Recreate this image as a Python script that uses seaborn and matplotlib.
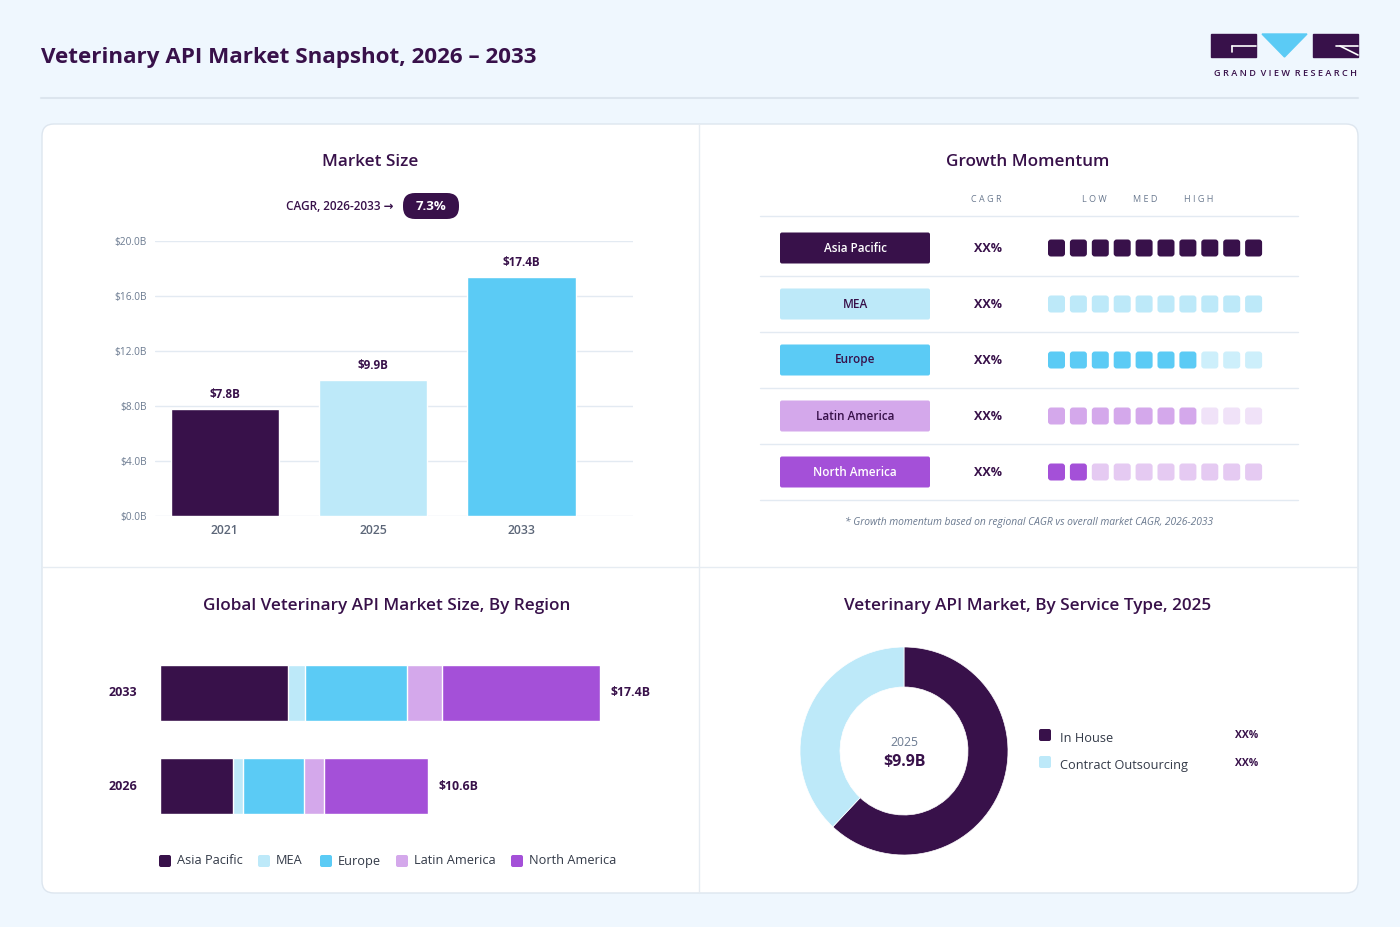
import numpy as np
import pandas as pd
import matplotlib
matplotlib.use("Agg")
import matplotlib.pyplot as plt
from matplotlib.patches import FancyBboxPatch, Rectangle, Polygon
import seaborn as sns

# ---------------- data ----------------
ms_years = ["2021", "2025", "2033"]
ms_values = [7.8, 9.9, 17.4]
ms_labels = ["$7.8B", "$9.9B", "$17.4B"]
y_ticks = [0, 4, 8, 12, 16, 20]
y_tick_labels = ["$0.0B", "$4.0B", "$8.0B", "$12.0B", "$16.0B", "$20.0B"]
cagr_text = "7.3%"

regions = ["Asia Pacific", "MEA", "Europe", "Latin America", "North America"]
momentum_filled = [10, 10, 7, 7, 2]
momentum_total = 10
momentum_cagr = ["XX%", "XX%", "XX%", "XX%", "XX%"]

stack_years = ["2033", "2026"]
stack_2033 = [5.07, 0.66, 4.05, 1.37, 6.25]
stack_2026 = [2.89, 0.38, 2.41, 0.82, 4.10]
stack_totals = ["$17.4B", "$10.6B"]

service_types = ["In House", "Contract Outsourcing"]
service_shares = [62, 38]
service_pct_labels = ["XX%", "XX%"]
donut_year = "2025"
donut_total = "$9.9B"

# ---------------- style ----------------
DARK = "#38114A"
LBLUE = "#BDE9F9"
SKY = "#5BCBF5"
LAV = "#D4A8EB"
PURP = "#A450D8"
reg_colors = [DARK, LBLUE, SKY, LAV, PURP]
pale_colors = [DARK, LBLUE, "#CDEFFB", "#F0E2F8", "#E5CAF2"]
label_text_colors = ["white", DARK, DARK, DARK, "white"]
GREY = "#6B7A90"
GRID = "#E3EAF2"
BG = "#EFF7FE"
FONT = "Open Sans"

sns.set_theme(style="white")
plt.rcParams["font.family"] = [FONT, "DejaVu Sans"]

W, H = 1400, 927
fig = plt.figure(figsize=(W / 100, H / 100), dpi=100)
fig.patch.set_facecolor(BG)

bg = fig.add_axes([0, 0, 1, 1])
bg.set_xlim(0, W)
bg.set_ylim(H, 0)
bg.axis("off")
bg.set_zorder(0)


def ax_px(x0, y0, x1, y1):
    a = fig.add_axes([x0 / W, 1 - y1 / H, (x1 - x0) / W, (y1 - y0) / H])
    a.set_zorder(2)
    a.patch.set_alpha(0)
    return a


# header
bg.text(41, 57, "Veterinary API Market Snapshot, 2026 \u2013 2033", fontsize=16.1,
        fontweight="bold", color=DARK, va="center", ha="left")
bg.plot([41, 1358], [98, 98], color="#DCE5EE", lw=1.5)
# logo
bg.add_patch(Rectangle((1211, 34), 45, 23, color=DARK))
bg.plot([1232, 1256], [46, 46], color="white", lw=1.2)
bg.plot([1232, 1232], [46, 52], color="white", lw=1.2)
bg.add_patch(Polygon([[1262, 34], [1307, 34], [1284.5, 57]], color=SKY))
bg.add_patch(Rectangle((1313, 34), 45, 23, color=DARK))
bg.plot([1336, 1358], [46, 46], color="white", lw=1.2)
bg.plot([1340, 1358], [46, 55], color="white", lw=1.2)
bg.text(1285.5, 73, "G R A N D  V I E W  R E S E A R C H", fontsize=6.6, fontweight="semibold",
        color=DARK, ha="center", va="center")

# card
bg.add_patch(FancyBboxPatch((42, 124), 1316, 769, boxstyle="round,pad=0,rounding_size=12",
                            fc="white", ec="#DDE6EF", lw=1))
bg.plot([699, 699], [124, 893], color="#E6ECF2", lw=1)
bg.plot([42, 1358], [567, 567], color="#E6ECF2", lw=1)

# panel titles
for (x, y, t) in [(370, 162, "Market Size"), (1028, 162, "Growth Momentum"),
                  (387, 606, "Global Veterinary API Market Size, By Region"),
                  (1028, 606, "Veterinary API Market, By Service Type, 2025")]:
    bg.text(x, y, t, fontsize=12.3, color=DARK, ha="center", va="center", fontweight="semibold")

# ---------------- Market size bar chart ----------------
bg.text(394, 206, "CAGR, 2026-2033 \u2192", fontsize=8.5, color=DARK, ha="right", va="center",
        fontweight="semibold")
bg.add_patch(FancyBboxPatch((403, 193), 56, 26, boxstyle="round,pad=0,rounding_size=12",
                            fc=DARK, ec="none"))
bg.text(431, 206, cagr_text, fontsize=9.5, color="white", ha="center", va="center", fontweight="bold")

ax1 = ax_px(155, 241, 633, 516)
df_ms = pd.DataFrame({"year": ms_years, "value": ms_values})
sns.barplot(data=df_ms, x="year", y="value", hue="year", palette=[DARK, LBLUE, SKY],
            width=0.73, legend=False, ax=ax1, saturation=1, zorder=3)
ax1.set_xlim(-0.47, 2.75)
ax1.set_ylim(0, 20)
ax1.set_yticks(y_ticks)
ax1.set_yticklabels(y_tick_labels, fontsize=7.3, color=GREY)
ax1.tick_params(axis="x", labelsize=8.8, labelcolor="#5C6678", pad=6, length=0)
for lab in ax1.get_xticklabels():
    lab.set_fontweight("semibold")
ax1.tick_params(axis="y", length=0, pad=6)
ax1.grid(axis="y", color=GRID, lw=1, zorder=0)
ax1.set_axisbelow(True)
for s in ax1.spines.values():
    s.set_visible(False)
ax1.set_xlabel("")
ax1.set_ylabel("")
for i, (v, l) in enumerate(zip(ms_values, ms_labels)):
    ax1.text(i, v + 0.55, l, ha="center", va="bottom", fontsize=8.4, fontweight="bold", color=DARK)

# ---------------- Growth momentum ----------------
bg.text(986, 199, "C A G R", fontsize=6.5, color=GREY, ha="center", va="center")
for x, t in [(1094, "L O W"), (1145, "M E D"), (1199, "H I G H")]:
    bg.text(x, 199, t, fontsize=6.5, color=GREY, ha="center", va="center")
row_lines = [216, 276, 332, 388, 444, 500]
for y in row_lines:
    bg.plot([760, 1298], [y, y], color="#E3EAF2", lw=1)
for r, reg in enumerate(regions):
    yc = 248 + 56 * r
    bg.add_patch(FancyBboxPatch((780, yc - 15.5), 150, 31, boxstyle="round,pad=0,rounding_size=2",
                                fc=reg_colors[r], ec="none"))
    bg.text(855, yc, reg, fontsize=8.5, fontweight="semibold", color=label_text_colors[r],
            ha="center", va="center")
    bg.text(988, yc, momentum_cagr[r], fontsize=9, fontweight="bold", color=DARK,
            ha="center", va="center")
    for k in range(momentum_total):
        col = reg_colors[r] if k < momentum_filled[r] else pale_colors[r]
        x0 = 1048 + k * 21.9
        bg.add_patch(FancyBboxPatch((x0, yc - 8.5), 17, 17, boxstyle="round,pad=0,rounding_size=3",
                                    fc=col, ec="none"))
bg.text(1029, 522, "* Growth momentum based on regional CAGR vs overall market CAGR, 2026-2033",
        fontsize=7.4, style="italic", color=GREY, ha="center", va="center")

# ---------------- Stacked bar by region ----------------
ax3 = ax_px(160, 646.5, 600, 832.5)
df_st = pd.DataFrame({"year": stack_years * len(regions),
                      "region": np.repeat(regions, 2),
                      "value": [v for pair in zip(stack_2033, stack_2026) for v in pair]})
df_st["cum"] = df_st.groupby("year", sort=False)["value"].cumsum()
for r in reversed(range(len(regions))):
    sub = df_st[df_st["region"] == regions[r]]
    sns.barplot(data=sub, y="year", x="cum", color=reg_colors[r], saturation=1,
                width=0.6, order=stack_years, ax=ax3, orient="h")
ax3.set_xlim(0, 17.4)
ax3.set_ylim(1.5, -0.5)
ax3.axis("off")
totals_val = [sum(stack_2033), sum(stack_2026)]
for i, (tv, tl) in enumerate(zip(totals_val, stack_totals)):
    ax3.text(tv + 0.42, i, tl, fontsize=8.8, fontweight="bold", color=DARK, va="center", ha="left")
    ax3.text(-0.9, i, stack_years[i], fontsize=9, fontweight="bold", color=DARK, va="center", ha="right")

# legend
leg_x = [159, 258, 320, 396, 511]
for r, reg in enumerate(regions):
    bg.add_patch(FancyBboxPatch((leg_x[r], 855), 12, 12, boxstyle="round,pad=0,rounding_size=2",
                                fc=reg_colors[r], ec="none"))
    bg.text(leg_x[r] + 18, 861, reg, fontsize=9.2, color="#333A48", va="center", ha="left")

# ---------------- Donut ----------------
ax4 = ax_px(904 - 110, 751 - 110, 904 + 110, 751 + 110)
ax4.pie(service_shares, colors=[DARK, LBLUE], startangle=90, counterclock=False,
        radius=104 / 110, wedgeprops=dict(width=40 / 110, edgecolor="white", linewidth=0.5))
ax4.set_xlim(-1, 1)
ax4.set_ylim(-1, 1)
ax4.set_aspect("equal")
bg.text(904, 742, donut_year, fontsize=8.8, color=GREY, ha="center", va="center")
bg.text(904, 762, donut_total, fontsize=11.5, fontweight="bold", color=DARK, ha="center", va="center")
for i, (s, p) in enumerate(zip(service_types, service_pct_labels)):
    yy = 735 + 27 * i
    bg.add_patch(FancyBboxPatch((1039, yy - 6), 12, 12, boxstyle="round,pad=0,rounding_size=2",
                                fc=[DARK, LBLUE][i], ec="none"))
    bg.text(1060, yy + 3, s, fontsize=9.2, color="#333A48", va="center", ha="left")
    bg.text(1258, yy + 1, p, fontsize=7.5, fontweight="bold", color=DARK, va="center", ha="right")

fig.savefig("out.png", dpi=100, facecolor=BG)
